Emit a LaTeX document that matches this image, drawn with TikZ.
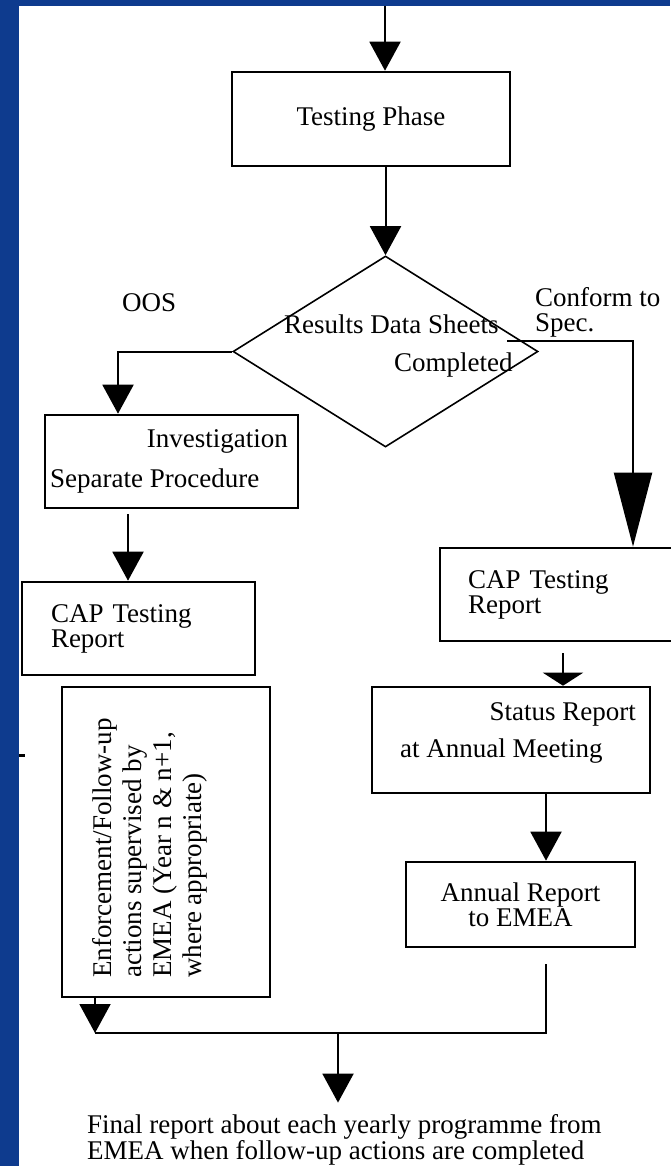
\documentclass[tikz,border=0pt]{standalone}
\usepackage{fontspec}
\setmainfont{Liberation Serif}
\usetikzlibrary{arrows.meta, shapes.geometric}
\definecolor{frameblue}{RGB}{14,59,142}

\begin{document}
\begin{tikzpicture}[x=1pt, y=-1pt,
        b/.style={rectangle, draw, line width=2.6pt, inner sep=0pt,
                  font=\fontsize{27}{25}\selectfont},
        t/.style={inner sep=0pt, font=\fontsize{27}{25}\selectfont},
        arr/.style={-{Triangle[length=29pt,width=31pt]}, line width=2pt},
        ln/.style={line width=2pt}]
      \useasboundingbox (0,0) rectangle (670,1166);
      \fill[frameblue] (0,0) rectangle (19,1166);
      \fill[frameblue] (0,0) rectangle (670,6);
      \draw[line width=3pt] (19,755) -- (25,755);

      % boxes
      \node[b, minimum width=278pt, minimum height=94pt] (tp) at (371,119) {Testing Phase};
      \node[draw, diamond, line width=1.6pt, minimum width=305pt, minimum height=191pt,
            inner sep=0pt] (dia) at (385.5,351.5) {};
      \node[b, minimum width=253pt, minimum height=93pt] (inv) at (171.5,461.5) {};
      \node[b, minimum width=233pt, minimum height=93pt, text width=175pt, align=left]
            (capl) at (138.5,628.5) {CAP Testing\\Report};
      \node[b, minimum width=208pt, minimum height=310pt] (enf) at (166,842) {};
      \node[b, minimum width=250pt, minimum height=93pt, text width=194pt, align=left]
            (capr) at (565,594.5) {CAP Testing\\Report};
      \node[b, minimum width=278pt, minimum height=106pt] (st) at (511,740) {};
      \node[b, minimum width=229pt, minimum height=85pt, align=center]
            (ann) at (520.5,904.5) {Annual Report\\to EMEA};

      % texts
      \node[t, anchor=base west] (rds) at (284,333) {Results Data Sheets};
      \node[t, anchor=base west] (cmp) at (394,371) {Completed};
      \node[t, anchor=base west] (oos) at (122,311) {OOS};
      \node[t, anchor=north west, align=left] (conf) at (535,287) {Conform to\\Spec.};
      \node[t, anchor=base east] (invA) at (288,447) {Investigation};
      \node[t, anchor=base west] (invB) at (50,487) {Separate Procedure};
      \node[t, anchor=base east] (stA) at (636,720) {Status Report};
      \node[t, anchor=base west] (stB) at (400,757) {at Annual Meeting};
      \node[t, rotate=90, anchor=north west, align=left, font=\fontsize{27}{30}\selectfont]
            (enfT) at (92,978) {Enforcement/Follow-up\\actions supervised by\\EMEA (Year n \& n+1,\\where appropriate)};
      \node[t, anchor=north west, align=left, font=\fontsize{27}{22}\selectfont]
            (fin) at (87,1114.6) {Final report about each yearly programme from\\EMEA when follow-up actions are completed};

      % connectors
      \coordinate (in) at (385,6);
      \coordinate (cs) at (507,341);
      \coordinate (jr) at (546,1033);
      \coordinate (jl) at (95,1033);
      \coordinate (jm) at (338,1033);
      \draw[arr] (in) -- (in |- tp.north);
      \draw[arr] (dia.north |- tp.south) -- (dia.north);
      \draw[arr] (dia.west) -| ([xshift=-53.5pt]inv.north);
      \draw[arr, -{Triangle[length=74pt,width=38pt]}] (cs) -| ([xshift=68pt]capr.north);
      \draw[arr, shorten <=5pt] ([xshift=-43.5pt]inv.south) -- ([xshift=-10.5pt]capl.north);
      \draw[arr, -{Triangle[length=13pt,width=40pt]}, shorten <=11pt]
            ([xshift=-2pt]capr.south) -- ([xshift=52pt]st.north);
      \draw[arr] ([xshift=35pt]st.south) -- ([xshift=25.5pt]ann.north);
      \draw[ln, shorten <=16pt] ([xshift=25.5pt]ann.south) -- (jr) -- (jl);
      \draw[arr] (enf.south -| jl) -- (jl);
      \draw[arr, shorten >=12pt] (jm) -- (jm |- fin.north);
    \end{tikzpicture}
\end{document}
